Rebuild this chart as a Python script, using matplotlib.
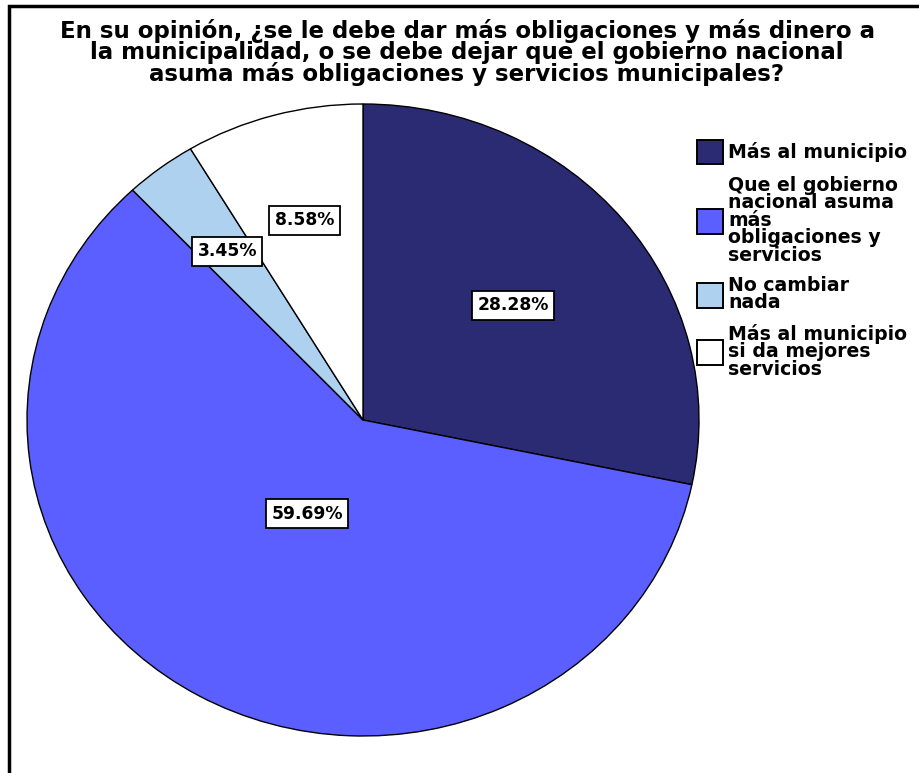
import matplotlib.pyplot as plt
import numpy as np
from matplotlib.patches import Rectangle

title = ("En su opinión, ¿se le debe dar más obligaciones y más dinero a\n"
         "la municipalidad, o se debe dejar que el gobierno nacional\n"
         "asuma más obligaciones y servicios municipales?")
labels = ["Más al municipio",
          "Que el gobierno\nnacional asuma\nmás\nobligaciones y\nservicios",
          "No cambiar\nnada",
          "Más al municipio\nsi da mejores\nservicios"]
values = [28.28, 59.69, 3.45, 8.58]
colors = ["#2a2b73", "#5c5fff", "#aed1ef", "#ffffff"]
# radial position of each percentage box
label_r = [0.575, 0.34, 0.67, 0.655]

W, H = 919, 773
fig = plt.figure(figsize=(W / 100, H / 100), dpi=100)
font = "DejaVu Sans"

# outer frame (runs off the right and bottom edges)
fig.patches.append(Rectangle((8.5 / W, -0.05), 1.2, 1.05 - 5.5 / H, transform=fig.transFigure,
                             fill=False, lw=2.5, ec="black"))

fig.text(467 / W, 1 - 19 / H, title, ha="center", va="top", fontsize=16.5,
         fontweight="bold", family=font, linespacing=0.88)

# pie is a little wider than tall
cx, cy, rx, ry = 363, 420, 336, 316
ax = fig.add_axes([(cx - rx) / W, 1 - (cy + ry) / H, 2 * rx / W, 2 * ry / H])
wedges, _ = ax.pie(values, colors=colors, startangle=90, counterclock=False,
                   wedgeprops=dict(edgecolor="black", linewidth=1.0))
ax.set_aspect("auto")
ax.set_xlim(-1, 1)
ax.set_ylim(-1, 1)

start = 90.0
for v, r in zip(values, label_r):
    mid = np.deg2rad(start - v * 3.6 / 2)
    start -= v * 3.6
    ax.text(r * np.cos(mid), r * np.sin(mid), f"{v:.2f}%", ha="center", va="center",
            fontsize=12.3, fontweight="bold", family=font,
            bbox=dict(boxstyle="square,pad=0.32", fc="white", ec="black", lw=1.3))

leg = fig.legend(wedges, labels, loc="upper left", bbox_to_anchor=(697 / W, 1 - 140 / H),
                 frameon=False, prop=dict(family=font, weight="bold", size=13.6),
                 handlelength=1.35, handleheight=1.6, handletextpad=0.3,
                 labelspacing=0.6, borderaxespad=0, borderpad=0)
for t in leg.get_texts():
    t.set_linespacing(0.9)
for p in leg.get_patches():
    p.set_linewidth(1.4)

fig.savefig("out.png", dpi=100)
